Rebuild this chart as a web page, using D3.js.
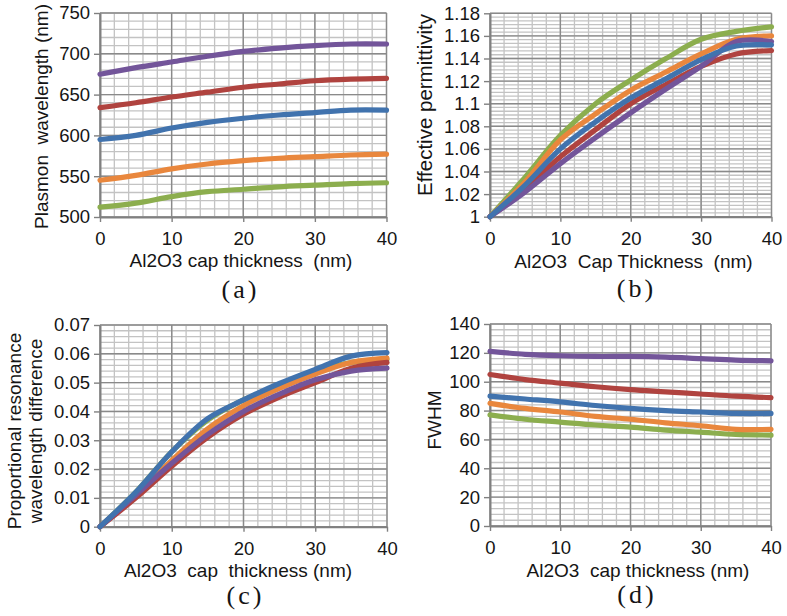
<!DOCTYPE html>
<html><head><meta charset="utf-8">
<script src="https://cdn.jsdelivr.net/npm/d3@7"></script>
<style>
body{margin:0;background:#fff}
svg text{font-family:"Liberation Sans",Arial,sans-serif;fill:#151515;white-space:pre}
</style>
</head><body>
<svg id="chart" width="787" height="616"></svg>
<script>
// ---------- data ----------
const thickness = [0, 5, 10, 15, 20, 25, 30, 35, 40];
const xTickLabels = [0, 10, 20, 30, 40];

// (a) Plasmon wavelength (nm)
const aGreen  = [512, 517, 525, 531, 534, 537, 539, 541, 542];
const aOrange = [545, 551, 559, 565, 569, 572, 574, 576, 577];
const aRed    = [634, 640, 647, 653, 659, 663, 667, 669, 670];
const aPurple = [675, 683, 690, 697, 703, 707, 710, 712, 712];
const aBlue   = [595, 600, 609, 616, 621, 625, 628, 631, 631];
const aYTicks = [500, 550, 600, 650, 700, 750];

// (b) Effective permittivity
const bGreen  = [1.0, 1.035, 1.072, 1.100, 1.121, 1.140, 1.157, 1.164, 1.168];
const bOrange = [1.0, 1.031, 1.068, 1.091, 1.112, 1.128, 1.144, 1.157, 1.160];
const bRed    = [1.0, 1.025, 1.053, 1.077, 1.100, 1.117, 1.133, 1.144, 1.147];
const bPurple = [1.0, 1.022, 1.047, 1.070, 1.092, 1.113, 1.133, 1.155, 1.155];
const bBlue   = [1.0, 1.028, 1.060, 1.084, 1.105, 1.122, 1.139, 1.151, 1.152];
const bYTicks = [1, 1.02, 1.04, 1.06, 1.08, 1.1, 1.12, 1.14, 1.16, 1.18];

// (c) Proportional resonance wavelength difference
const cGreen  = [0, 0.012, 0.026, 0.037, 0.044, 0.049, 0.054, 0.057, 0.058];
const cOrange = [0, 0.011, 0.023, 0.034, 0.042, 0.048, 0.053, 0.057, 0.0585];
const cRed    = [0, 0.010, 0.021, 0.031, 0.039, 0.045, 0.050, 0.055, 0.057];
const cPurple = [0, 0.011, 0.022, 0.032, 0.040, 0.046, 0.051, 0.054, 0.055];
const cBlue   = [0, 0.012, 0.026, 0.0375, 0.044, 0.0497, 0.0546, 0.0592, 0.0604];
const cYTicks = [0, 0.01, 0.02, 0.03, 0.04, 0.05, 0.06, 0.07];

// (d) FWHM
const dGreen  = [77, 74, 72, 70, 68.5, 66.5, 65, 63.5, 63];
const dOrange = [85, 81.5, 79, 76, 74, 71.5, 69.5, 67, 67];
const dRed    = [105, 101.5, 99, 96.5, 94.5, 93, 91.5, 90, 89];
const dPurple = [121, 119, 118, 117.5, 117.5, 117, 116, 115, 114.5];
const dBlue   = [90, 88, 86, 83.5, 81.5, 80, 79, 78, 78];
const dYTicks = [0, 20, 40, 60, 80, 100, 120, 140];

const seriesColors = {green:"#8cae4e", orange:"#e9873d", red:"#b0433f", purple:"#73559a", blue:"#4173ae"};

// ---------- drawing ----------
const svg = d3.select("#chart");

function panel(cfg) {
  const x = d3.scaleLinear().domain([0, 40]).range([cfg.left, cfg.right]);
  const yT = cfg.yTicks;
  const y = d3.scaleLinear().domain([yT[0], yT[yT.length-1]]).range([cfg.bottom, cfg.top]);
  const g = svg.append("g");

  // minor grid
  const xMinor = d3.range(0, 21).map(i => i * 2);
  const nY = (yT.length - 1) * cfg.ySub;
  const yStep = (yT[1] - yT[0]) / cfg.ySub;
  const yMinor = d3.range(0, nY + 1).map(i => yT[0] + i * yStep);
  g.selectAll(".vmin").data(xMinor).join("line")
    .attr("x1", d => x(d)).attr("x2", d => x(d))
    .attr("y1", cfg.top).attr("y2", cfg.bottom)
    .attr("stroke", "#c3c3c3").attr("stroke-width", 1.3);
  g.selectAll(".hmin").data(yMinor).join("line")
    .attr("y1", d => y(d)).attr("y2", d => y(d))
    .attr("x1", cfg.left).attr("x2", cfg.right)
    .attr("stroke", "#c3c3c3").attr("stroke-width", 1.3);
  // major grid
  g.selectAll(".vmaj").data(xTickLabels).join("line")
    .attr("x1", d => x(d)).attr("x2", d => x(d))
    .attr("y1", cfg.top).attr("y2", cfg.bottom)
    .attr("stroke", "#8a8a8a").attr("stroke-width", 1.4);
  g.selectAll(".hmaj").data(yT).join("line")
    .attr("y1", d => y(d)).attr("y2", d => y(d))
    .attr("x1", cfg.left).attr("x2", cfg.right)
    .attr("stroke", "#8a8a8a").attr("stroke-width", 1.4);

  // axes
  const yAxis = d3.axisLeft(y).tickValues(yT).tickSize(6).tickPadding(4).tickSizeOuter(0)
    .tickFormat(d => String(+d.toFixed(4)));
  const ya = g.append("g").attr("transform", `translate(${cfg.left},0)`).call(yAxis);
  const xAxis = d3.axisBottom(x).tickValues(xTickLabels).tickSize(5).tickPadding(10).tickSizeOuter(0);
  const xa = g.append("g").attr("transform", `translate(0,${cfg.bottom})`).call(xAxis);
  [ya, xa].forEach(a => {
    a.select(".domain").attr("stroke", "#808080").attr("stroke-width", 2);
    a.selectAll(".tick line").attr("stroke", "#808080").attr("stroke-width", 1.4);
    a.selectAll(".tick text").attr("font-size", 18.5).attr("fill", "#151515")
      .style("font-family", '"Liberation Sans",Arial,sans-serif');
  });

  // lines
  const line = d3.line().x((d, i) => x(thickness[i])).y(d => y(d)).curve(d3.curveCatmullRom.alpha(0.5));
  g.selectAll(".series").data(cfg.series).join("path")
    .attr("d", s => line(s.values))
    .attr("fill", "none")
    .attr("stroke", s => seriesColors[s.color])
    .attr("stroke-width", 5.2)
    .attr("stroke-linecap", "round")
    .attr("stroke-linejoin", "round");

  // titles
  g.append("text").attr("x", cfg.xTitle[1]).attr("y", cfg.xTitle[2])
    .attr("text-anchor", "middle").attr("font-size", 19).text(cfg.xTitle[0]);
  cfg.yTitles.forEach(t => {
    g.append("text").attr("transform", `translate(${t[1]},${t[2]}) rotate(-90)`)
      .attr("text-anchor", "middle").attr("font-size", t[3]).text(t[0]);
  });
  g.append("text").attr("x", cfg.caption[1] + 1.5).attr("y", cfg.caption[2])
    .attr("text-anchor", "middle").attr("font-size", 26).attr("letter-spacing", 3)
    .style("font-family", '"Liberation Serif","Times New Roman",serif')
    .text(cfg.caption[0]);
}

function mk(gr, or, re, pu, bl) {
  return [
    {color: "green", values: gr}, {color: "orange", values: or},
    {color: "red", values: re}, {color: "purple", values: pu}, {color: "blue", values: bl}
  ];
}

panel({left: 100, right: 386.5, top: 13, bottom: 217, yTicks: aYTicks, ySub: 5,
  series: mk(aGreen, aOrange, aRed, aPurple, aBlue),
  xTitle: ["Al2O3 cap thickness  (nm)", 241, 267],
  yTitles: [["Plasmon  wavelength (nm)", 48, 116.5, 19]],
  caption: ["(a)", 239, 298]});

panel({left: 490, right: 771.5, top: 13.3, bottom: 216.7, yTicks: bYTicks, ySub: 6,
  series: mk(bGreen, bOrange, bRed, bPurple, bBlue),
  xTitle: ["Al2O3  Cap Thickness  (nm)", 633.5, 268],
  yTitles: [["Effective permittivity", 432, 105, 20.5]],
  caption: ["(b)", 635, 297]});

panel({left: 100, right: 387, top: 325, bottom: 526.7, yTicks: cYTicks, ySub: 5,
  series: mk(cGreen, cOrange, cRed, cPurple, cBlue),
  xTitle: ["Al2O3  cap  thickness (nm)", 238, 577],
  yTitles: [["Proportional resonance", 21, 431, 19], ["wavelength difference", 41.5, 431, 19]],
  caption: ["(c)", 244, 604]});

panel({left: 490, right: 771, top: 324, bottom: 526, yTicks: dYTicks, ySub: 5,
  series: mk(dGreen, dOrange, dRed, dPurple, dBlue),
  xTitle: ["Al2O3  cap thickness (nm)", 638, 577],
  yTitles: [["FWHM", 440.5, 420, 19]],
  caption: ["(d)", 635.5, 603]});
</script>
</body></html>
